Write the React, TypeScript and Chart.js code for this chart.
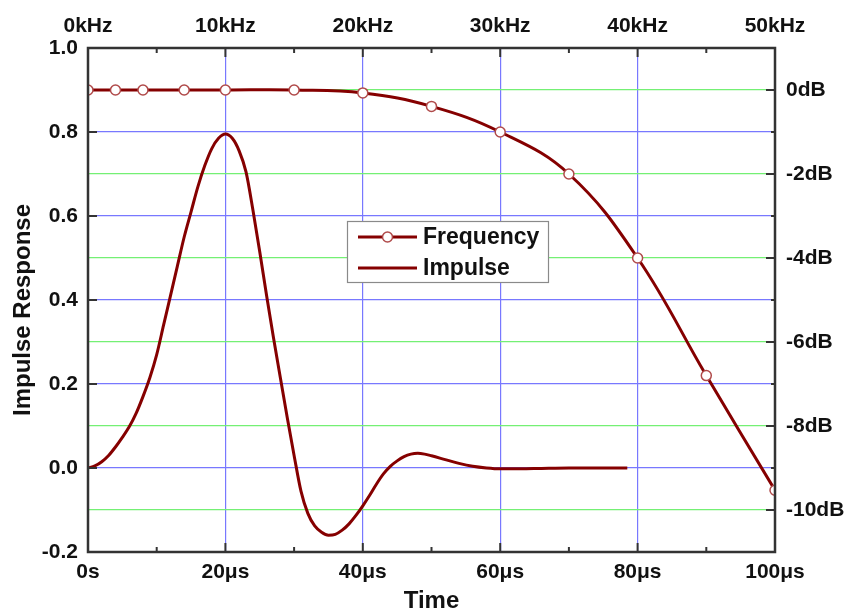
import React, { useEffect, useRef } from 'react';
import { Chart, registerables } from 'chart.js';

Chart.register(...registerables);

// ---- Data ----
const timeTicksUs = [0, 20, 40, 60, 80, 100];
const freqTicksKHz = [0, 10, 20, 30, 40, 50];
const responseTicks = [-0.2, 0, 0.2, 0.4, 0.6, 0.8, 1.0];
const dbTicks = [0, -2, -4, -6, -8, -10];

const freqKHz = [0, 2, 4, 7, 10, 15, 20, 25, 30, 35, 40, 45, 50];
const freqDb = [0, 0, 0, 0, 0, 0, -0.07, -0.39, -1.0, -2.0, -4.0, -6.8, -9.53];

const impulseTimeUs = [
  0, 1, 2, 3, 4, 5, 6, 7, 8, 9, 10, 11, 12, 13, 14, 15, 16, 17, 18, 19, 20,
  21, 22, 23, 24, 25, 26, 27, 28, 29, 30, 31, 32, 33, 34, 35, 36, 37, 38, 39, 40,
  41, 42, 43, 44, 45, 46, 47, 48, 49, 50, 52, 54, 56, 58, 60, 63, 66, 70, 74, 78.5,
];
const impulseValue = [
  0, 0.005, 0.015, 0.03, 0.05, 0.073, 0.098, 0.13, 0.17, 0.215, 0.27, 0.34, 0.41, 0.48, 0.55, 0.61, 0.67, 0.72, 0.76, 0.785, 0.795,
  0.785, 0.755, 0.705, 0.615, 0.515, 0.41, 0.31, 0.215, 0.12, 0.03, -0.055, -0.108, -0.138, -0.153, -0.16, -0.158, -0.148, -0.133, -0.113, -0.09,
  -0.065, -0.038, -0.014, 0.004, 0.017, 0.027, 0.033, 0.035, 0.033, 0.029, 0.02, 0.011, 0.004, 0.0, -0.002, -0.002, -0.001, 0, 0, 0,
];

const seriesNames = ['Frequency', 'Impulse'];
const axisTitles = { x: 'Time', y: 'Impulse Response' };

// ---- Styles ----
const LINE_COLOR = '#850000';
const MARKER_BORDER = '#b04a4a';
const BLUE_GRID = '#7878ff';
const GREEN_GRID = '#74f074';
const FRAME = '#333333';
const FONT = "'Liberation Sans', Arial, sans-serif";

const near = (a: number, b: number) => Math.abs(a - b) < 1e-6;

const framePlugin = {
  id: 'frameTicks',
  afterDatasetsDraw(chart: any) {
    const { ctx, chartArea: a, scales } = chart;
    ctx.save();
    ctx.strokeStyle = FRAME;
    ctx.lineWidth = 2;
    const seg = (x1: number, y1: number, x2: number, y2: number) => {
      ctx.beginPath();
      ctx.moveTo(x1, y1);
      ctx.lineTo(x2, y2);
      ctx.stroke();
    };
    timeTicksUs.forEach((v, i) => {
      const px = scales.x.getPixelForValue(v);
      seg(px, a.bottom, px, a.bottom - 9);
      if (i < timeTicksUs.length - 1) {
        const m = scales.x.getPixelForValue((v + timeTicksUs[i + 1]) / 2);
        seg(m, a.bottom, m, a.bottom - 5);
      }
    });
    freqTicksKHz.forEach((v, i) => {
      const px = scales.x2.getPixelForValue(v);
      seg(px, a.top, px, a.top + 9);
      if (i < freqTicksKHz.length - 1) {
        const m = scales.x2.getPixelForValue((v + freqTicksKHz[i + 1]) / 2);
        seg(m, a.top, m, a.top + 5);
      }
    });
    responseTicks.forEach((v) => {
      const py = scales.y.getPixelForValue(v);
      seg(a.left, py, a.left + 9, py);
    });
    dbTicks.forEach((v) => {
      const py = scales.y2.getPixelForValue(v);
      seg(a.right, py, a.right - 9, py);
      const m = scales.y2.getPixelForValue(v + 1);
      seg(a.right, m, a.right - 4, m);
    });
    ctx.lineWidth = 2.5;
    ctx.strokeRect(a.left, a.top, a.right - a.left, a.bottom - a.top);
    ctx.restore();
  },
};

const overlayPlugin = {
  id: 'overlay',
  afterDraw(chart: any) {
    const { ctx } = chart;
    ctx.save();
    // y axis title
    ctx.translate(23, 310);
    ctx.rotate(-Math.PI / 2);
    ctx.font = `bold 24px ${FONT}`;
    ctx.fillStyle = '#111111';
    ctx.textAlign = 'center';
    ctx.textBaseline = 'middle';
    ctx.fillText(axisTitles.y, 0, 0);
    ctx.restore();

    // legend
    ctx.save();
    const bx = 347, by = 221, bw = 201, bh = 61;
    ctx.fillStyle = '#ffffff';
    ctx.fillRect(bx, by, bw, bh);
    ctx.strokeStyle = '#8a8a8a';
    ctx.lineWidth = 1.2;
    ctx.strokeRect(bx + 0.5, by + 0.5, bw, bh);
    const rows = [237, 268];
    ctx.font = `bold 23px ${FONT}`;
    ctx.textBaseline = 'middle';
    ctx.textAlign = 'left';
    rows.forEach((y, i) => {
      ctx.strokeStyle = LINE_COLOR;
      ctx.lineWidth = 3;
      ctx.beginPath();
      ctx.moveTo(358, y);
      ctx.lineTo(417, y);
      ctx.stroke();
      if (i === 0) {
        ctx.beginPath();
        ctx.arc(387.5, y, 5, 0, Math.PI * 2);
        ctx.fillStyle = '#ffffff';
        ctx.fill();
        ctx.strokeStyle = MARKER_BORDER;
        ctx.lineWidth = 1.5;
        ctx.stroke();
      }
      ctx.fillStyle = '#111111';
      ctx.fillText(seriesNames[i], 423, y + 1);
    });
    ctx.restore();
  },
};

export default function App() {
  const ref = useRef<HTMLCanvasElement | null>(null);

  useEffect(() => {
    if (!ref.current) return;
    const tickFont = { family: FONT, size: 21, weight: 'bold' as const };
    const titleFont = { family: FONT, size: 24, weight: 'bold' as const, lineHeight: 1 };
    const chart = new Chart(ref.current, {
      type: 'line',
      data: {
        datasets: [
          {
            label: seriesNames[0],
            data: freqKHz.map((f, i) => ({ x: f, y: freqDb[i] })),
            xAxisID: 'x2',
            yAxisID: 'y2',
            borderColor: LINE_COLOR,
            borderWidth: 3,
            pointRadius: 5,
            pointBackgroundColor: '#ffffff',
            pointBorderColor: MARKER_BORDER,
            pointBorderWidth: 1.5,
            tension: 0.4,
            cubicInterpolationMode: 'default',
            clip: 0,
            order: 1,
          },
          {
            label: seriesNames[1],
            data: impulseTimeUs.map((t, i) => ({ x: t, y: impulseValue[i] })),
            xAxisID: 'x',
            yAxisID: 'y',
            borderColor: LINE_COLOR,
            borderWidth: 3,
            pointRadius: 0,
            tension: 0.4,
            cubicInterpolationMode: 'monotone',
            clip: 0,
            order: 2,
          },
        ],
      },
      options: {
        responsive: false,
        animation: false,
        layout: { padding: 0 },
        plugins: { legend: { display: false }, tooltip: { enabled: false } },
        scales: {
          x: {
            type: 'linear',
            position: 'bottom',
            min: 0,
            max: 100,
            afterBuildTicks: (s: any) => { s.ticks = timeTicksUs.map((v) => ({ value: v })); },
            afterFit: (s: any) => { s.height = 62; },
            ticks: {
              font: tickFont,
              color: '#111',
              padding: 8,
              maxRotation: 0,
              callback: (v: any) => (v === 0 ? '0s' : `${v}μs`),
            },
            grid: {
              drawTicks: false,
              color: (c: any) => (c.tick && (near(c.tick.value, 0) || near(c.tick.value, 100)) ? 'rgba(0,0,0,0)' : BLUE_GRID),
              lineWidth: 1.2,
            },
            border: { display: false },
            title: { display: true, text: axisTitles.x, font: titleFont, color: '#111', padding: { top: 0, bottom: 1 } },
          },
          x2: {
            type: 'linear',
            position: 'top',
            min: 0,
            max: 50,
            afterBuildTicks: (s: any) => { s.ticks = freqTicksKHz.map((v) => ({ value: v })); },
            afterFit: (s: any) => { s.height = 48; },
            ticks: {
              font: tickFont,
              color: '#111',
              padding: 9,
              maxRotation: 0,
              callback: (v: any) => `${v}kHz`,
            },
            grid: { display: false, drawTicks: false },
            border: { display: false },
          },
          y: {
            type: 'linear',
            position: 'left',
            min: -0.2,
            max: 1.0,
            afterBuildTicks: (s: any) => { s.ticks = responseTicks.map((v) => ({ value: v })); },
            afterFit: (s: any) => { s.width = 88; },
            ticks: {
              font: tickFont,
              color: '#111',
              padding: 10,
              callback: (v: any) => Number(v).toFixed(1),
            },
            grid: {
              drawTicks: false,
              color: (c: any) => (c.tick && (near(c.tick.value, -0.2) || near(c.tick.value, 1.0)) ? 'rgba(0,0,0,0)' : BLUE_GRID),
              lineWidth: 1.2,
            },
            border: { display: false },
          },
          y2: {
            type: 'linear',
            position: 'right',
            min: -11,
            max: 1,
            afterBuildTicks: (s: any) => { s.ticks = dbTicks.map((v) => ({ value: v })); },
            afterFit: (s: any) => { s.width = 73; },
            ticks: {
              font: tickFont,
              color: '#111',
              padding: 11,
              callback: (v: any) => `${v}dB`,
            },
            grid: {
              drawTicks: false,
              color: GREEN_GRID,
              lineWidth: 1.2,
            },
            border: { display: false },
          },
        },
      },
      plugins: [framePlugin, overlayPlugin],
    } as any);
    return () => chart.destroy();
  }, []);

  return (
    <div style={{ position: 'fixed', left: 0, top: 0, width: 848, height: 614, background: '#ffffff' }}>
      <canvas ref={ref} width={848} height={614} style={{ display: 'block' }} />
    </div>
  );
}
